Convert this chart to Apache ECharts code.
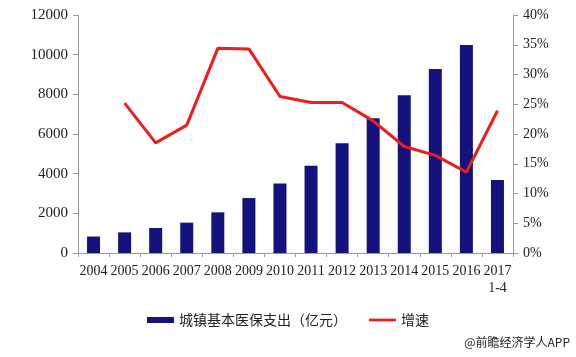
<!DOCTYPE html>
<html><head><meta charset="utf-8">
<script src="https://cdn.jsdelivr.net/npm/echarts@6/dist/echarts.min.js"></script>
<style>html,body{margin:0;padding:0;background:#fff}#c{width:576px;height:357px}</style>
</head><body><div id="c"></div>
<script>
const categories = ['2004','2005','2006','2007','2008','2009','2010','2011','2012','2013','2014','2015','2016','2017\n1-4'];
const spending = [830,1040,1260,1530,2050,2770,3510,4400,5530,6790,7950,9280,10490,3680];
const growth = [null,25.2,18.5,21.5,34.4,34.3,26.3,25.3,25.3,22.2,17.9,16.4,13.6,23.9];
const leftTicks = [0,2000,4000,6000,8000,10000,12000];
const rightTicks = [0,5,10,15,20,25,30,35,40];
const serif = '"Liberation Serif","Times New Roman",serif';
const chart = echarts.init(document.getElementById('c'));
chart.setOption({
  animation:false,
  grid:{left:78,right:63,top:15,bottom:104},
  legend:{
    bottom:25, left:'center', itemGap:22, itemWidth:27, itemHeight:6,
    textStyle:{fontFamily:'"Noto Sans CJK SC",sans-serif',fontSize:14,color:'#222'},
    data:[{name:'城镇基本医保支出（亿元）',icon:'rect'},{name:'增速',icon:'path://M0,0H30V3H0Z',itemStyle:{color:'#ee1c1c'}}]
  },
  xAxis:{
    type:'category', data:categories,
    axisLine:{lineStyle:{color:'#999'}},
    axisTick:{show:true,alignWithLabel:false,length:4,lineStyle:{color:'#999'}},
    axisLabel:{fontFamily:serif,fontSize:14,color:'#222',interval:0,margin:10,lineHeight:17}
  },
  yAxis:[{
    type:'value', min:0, max:12000, interval:2000,
    splitLine:{show:false},
    axisLine:{show:true,lineStyle:{color:'#999'}},
    axisTick:{show:true,length:5,lineStyle:{color:'#999'}},
    axisLabel:{fontFamily:serif,fontSize:15,color:'#222',margin:10,formatter:v=>String(v)}
  },{
    type:'value', min:0, max:40, interval:5, position:'right',
    splitLine:{show:false},
    axisLine:{show:true,lineStyle:{color:'#999'}},
    axisTick:{show:true,length:5,lineStyle:{color:'#999'}},
    axisLabel:{fontFamily:serif,fontSize:14,color:'#222',margin:10,formatter:'{value}%'}
  }],
  series:[{
    name:'城镇基本医保支出（亿元）', type:'bar', data:spending, barWidth:13,
    itemStyle:{color:'#14127c'}
  },{
    name:'增速', type:'line', yAxisIndex:1, data:growth, symbol:'none',
    lineStyle:{color:'#ee1c1c',width:3}, itemStyle:{color:'#ee1c1c'}
  }],
  graphic:[{type:'text',right:6,bottom:9,style:{text:'@前瞻经济学人APP',fontFamily:'"Noto Sans CJK SC",sans-serif',fontSize:12,fill:'#222'}}]
});
</script></body></html>
